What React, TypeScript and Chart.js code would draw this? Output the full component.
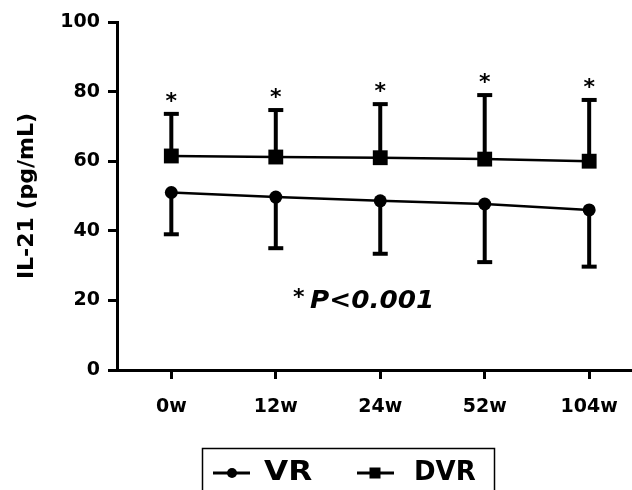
import React, { useEffect, useRef } from 'react';
import { Chart, registerables } from 'chart.js';

Chart.register(...registerables);

const timepoints = ['0w', '12w', '24w', '52w', '104w'];
const vrMean = [51, 49.7, 48.6, 47.7, 46];
const vrLower = [39, 35, 33.4, 31, 29.7];
const dvrMean = [61.5, 61.2, 61, 60.6, 60];
const dvrUpper = [73.6, 74.7, 76.4, 79, 77.6];
const yTicks = [0, 20, 40, 60, 80, 100];
const seriesNames = ['VR', 'DVR'];
const yTitle = 'IL-21 (pg/mL)';
const pLabel = 'P<0.001';

const FONT = '"DejaVu Sans"';

const errorBarPlugin = {
  id: 'errorBars',
  beforeDatasetsDraw(chart: any) {
    const { ctx, scales } = chart;
    const xs = scales.x;
    const ys = scales.y;
    ctx.save();
    ctx.strokeStyle = '#000';
    ctx.lineWidth = 4;
    ctx.lineCap = 'butt';
    const cap = 7.5;
    const draw = (means: number[], ends: number[]) => {
      means.forEach((m, i) => {
        const x = xs.getPixelForValue(i);
        const y0 = ys.getPixelForValue(m);
        const y1 = ys.getPixelForValue(ends[i]);
        ctx.beginPath();
        ctx.moveTo(x, y0);
        ctx.lineTo(x, y1);
        ctx.stroke();
        ctx.beginPath();
        ctx.moveTo(x - cap, y1);
        ctx.lineTo(x + cap, y1);
        ctx.stroke();
      });
    };
    draw(vrMean, vrLower);
    draw(dvrMean, dvrUpper);
    ctx.restore();
  },
  afterDatasetsDraw(chart: any) {
    const { ctx, scales } = chart;
    const xs = scales.x;
    const ys = scales.y;
    ctx.save();
    ctx.fillStyle = '#000';
    ctx.font = `bold 22px ${FONT}`;
    ctx.textAlign = 'center';
    ctx.textBaseline = 'middle';
    dvrUpper.forEach((u, i) => {
      ctx.fillText('*', xs.getPixelForValue(i), ys.getPixelForValue(u) - 12);
    });
    ctx.restore();
  },
  afterDraw(chart: any) {
    const { ctx } = chart;
    ctx.save();
    ctx.fillStyle = '#000';
    ctx.strokeStyle = '#000';
    // y title
    ctx.save();
    ctx.translate(27, 196);
    ctx.rotate(-Math.PI / 2);
    ctx.font = `bold 22px ${FONT}`;
    ctx.textAlign = 'center';
    ctx.textBaseline = 'middle';
    ctx.fillText(yTitle, 0, 0);
    ctx.restore();

    // p value text
    ctx.font = `bold 22px ${FONT}`;
    ctx.textAlign = 'left';
    ctx.textBaseline = 'middle';
    ctx.fillText('*', 293, 298);
    ctx.font = `italic bold 25px ${FONT}`;
    ctx.save();
    ctx.translate(310, 301);
    ctx.scale(1.05, 1);
    ctx.fillText(pLabel, 0, 0);
    ctx.restore();

    // legend box
    ctx.lineWidth = 1.5;
    ctx.strokeRect(202.5, 448.5, 292, 44);
    const ly = 473;
    ctx.lineWidth = 3;
    // VR
    ctx.beginPath();
    ctx.moveTo(213, ly);
    ctx.lineTo(250, ly);
    ctx.stroke();
    ctx.beginPath();
    ctx.arc(232, ly, 5, 0, Math.PI * 2);
    ctx.fill();
    // DVR
    ctx.beginPath();
    ctx.moveTo(357, ly);
    ctx.lineTo(394, ly);
    ctx.stroke();
    ctx.fillRect(375 - 5.5, ly - 5.5, 11, 11);
    ctx.font = `bold 26px ${FONT}`;
    ctx.textBaseline = 'middle';
    ctx.save();
    ctx.translate(264, ly);
    ctx.scale(1.2, 1);
    ctx.fillText(seriesNames[0], 0, 0);
    ctx.restore();
    ctx.fillText(seriesNames[1], 414, ly);
    ctx.restore();
  },
};

export default function App() {
  const ref = useRef<HTMLCanvasElement>(null);
  useEffect(() => {
    if (!ref.current) return;
    const chart = new Chart(ref.current, {
      type: 'line',
      data: {
        datasets: [
          {
            label: seriesNames[0],
            data: vrMean.map((v, i) => ({ x: i, y: v })),
            borderColor: '#000',
            backgroundColor: '#000',
            borderWidth: 2.5,
            pointStyle: 'circle',
            pointRadius: 6.5,
            pointBackgroundColor: '#000',
            pointBorderWidth: 0,
          },
          {
            label: seriesNames[1],
            data: dvrMean.map((v, i) => ({ x: i, y: v })),
            borderColor: '#000',
            backgroundColor: '#000',
            borderWidth: 2.5,
            pointStyle: 'rect',
            pointRadius: 10.5,
            pointBackgroundColor: '#000',
            pointBorderWidth: 0,
          },
        ],
      },
      options: {
        animation: false,
        responsive: false,
        devicePixelRatio: 1,
        layout: { autoPadding: false, padding: { top: 22, right: 0, left: 0, bottom: 0 } },
        plugins: {
          legend: { display: false },
          tooltip: { enabled: false },
        },
        scales: {
          x: {
            type: 'linear',
            min: -0.52,
            max: 4.41,
            afterBuildTicks: (s: any) => {
              s.ticks = timepoints.map((_, i) => ({ value: i }));
            },
            afterFit: (s: any) => {
              s.height = 120;
              s.paddingLeft = 0;
              s.paddingRight = 0;
            },
            ticks: {
              callback: (_v: any, i: number) => timepoints[i],
              font: { family: FONT, size: 19, weight: 'bold' },
              color: '#000',
              padding: 17,
              maxRotation: 0,
            },
            grid: {
              display: true,
              drawOnChartArea: false,
              drawTicks: true,
              tickLength: 9,
              lineWidth: 3,
              color: '#000',
            },
            border: { display: true, width: 3, color: '#000' },
          },
          y: {
            type: 'linear',
            min: 0,
            max: 100,
            afterBuildTicks: (s: any) => {
              s.ticks = yTicks.map((v) => ({ value: v }));
            },
            afterFit: (s: any) => {
              s.width = 117;
            },
            ticks: {
              font: { family: FONT, size: 19, weight: 'bold' },
              color: '#000',
              padding: 8,
            },
            grid: {
              display: true,
              drawOnChartArea: false,
              drawTicks: true,
              tickLength: 9,
              lineWidth: 3,
              color: '#000',
            },
            border: { display: true, width: 3, color: '#000' },
          },
        },
      },
      plugins: [errorBarPlugin],
    } as any);
    return () => chart.destroy();
  }, []);
  return (
    <div style={{ position: 'fixed', left: 0, top: 0, width: 632, height: 490, background: '#fff' }}>
      <canvas ref={ref} width={632} height={490} style={{ display: 'block', width: 632, height: 490 }} />
    </div>
  );
}
